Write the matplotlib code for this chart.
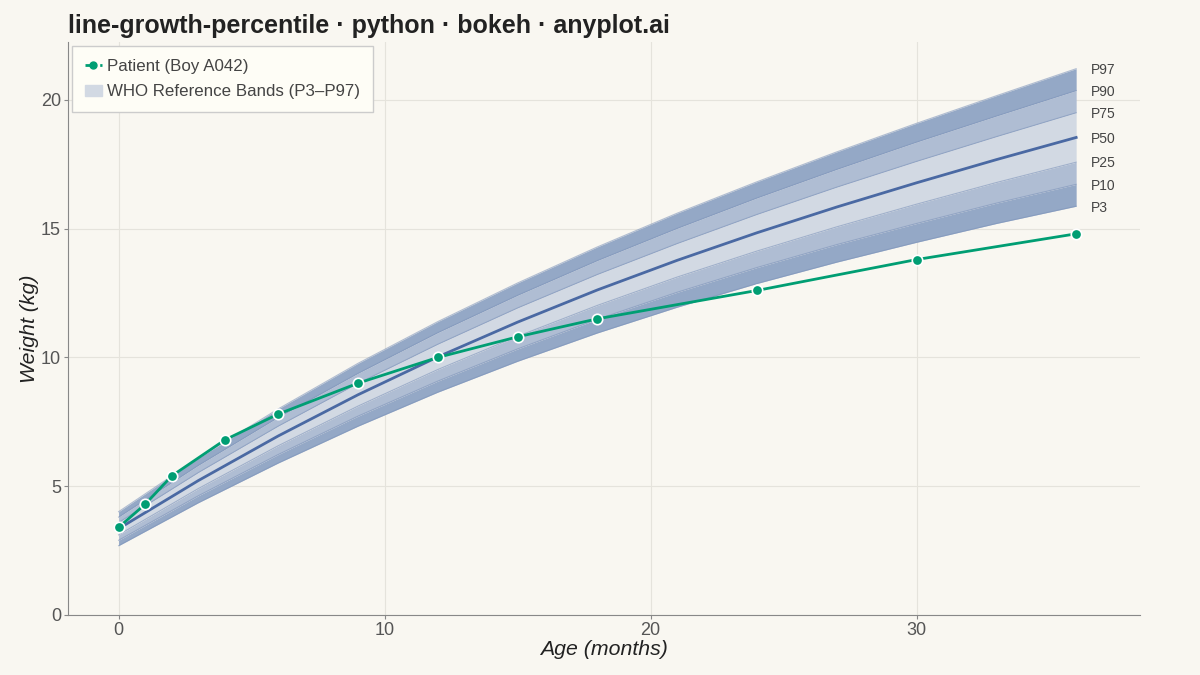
import matplotlib
matplotlib.use("Agg")
import matplotlib.pyplot as plt
from matplotlib.lines import Line2D
from matplotlib.patches import Patch

plt.rcParams['font.family'] = ['Liberation Sans', 'DejaVu Sans']

# reference percentile curves, weight in kg
ages = [0, 3, 6, 9, 12, 15, 18, 21, 24, 27, 30, 33, 36]
p3 = [2.69, 4.36, 5.90, 7.33, 8.65, 9.85, 10.95, 11.95, 12.87, 13.70, 14.47, 15.20, 15.87]
p10 = [2.90, 4.63, 6.23, 7.72, 9.08, 10.33, 11.48, 12.53, 13.49, 14.38, 15.20, 15.99, 16.72]
p25 = [3.11, 4.91, 6.57, 8.11, 9.53, 10.82, 12.02, 13.12, 14.13, 15.07, 15.95, 16.79, 17.58]
p50 = [3.35, 5.22, 6.95, 8.55, 10.02, 11.37, 12.62, 13.77, 14.84, 15.84, 16.78, 17.68, 18.54]
p75 = [3.59, 5.53, 7.33, 8.99, 10.51, 11.92, 13.22, 14.42, 15.55, 16.61, 17.61, 18.57, 19.50]
p90 = [3.80, 5.81, 7.67, 9.38, 10.96, 12.41, 13.76, 15.01, 16.19, 17.30, 18.36, 19.37, 20.36]
p97 = [4.01, 6.09, 8.00, 9.77, 11.39, 12.89, 14.29, 15.60, 16.82, 17.98, 19.09, 20.16, 21.21]

# patient measurements
patient_age = [0, 1, 2, 4, 6, 9, 12, 15, 18, 24, 30, 36]
patient_wt = [3.4, 4.3, 5.4, 6.8, 7.8, 9.0, 10.0, 10.8, 11.5, 12.6, 13.8, 14.8]

bg = '#F9F7F1'
outer_c = '#94A8C6'
mid_c = '#AFBDD3'
inner_c = '#D2D9E3'
edge_c = '#7F95BB'
median_c = '#4A69A3'
green = '#009E73'

fig = plt.figure(figsize=(12, 6.75), dpi=100, facecolor=bg)
ax = fig.add_axes([0.0567, 0.0889, 0.8933, 0.849])
ax.set_facecolor(bg)

ax.fill_between(ages, p3, p10, color=outer_c, lw=0, zorder=1)
ax.fill_between(ages, p90, p97, color=outer_c, lw=0, zorder=1)
ax.fill_between(ages, p10, p25, color=mid_c, lw=0, zorder=1)
ax.fill_between(ages, p75, p90, color=mid_c, lw=0, zorder=1)
ax.fill_between(ages, p25, p75, color=inner_c, lw=0, zorder=1)
for s in [p3, p10, p25, p75, p90, p97]:
    ax.plot(ages, s, color=edge_c, lw=0.8, alpha=0.6, zorder=2)
ax.plot(ages, p50, color=median_c, lw=2, zorder=3)

labels = ['P97', 'P90', 'P75', 'P50', 'P25', 'P10', 'P3']
ends = [p97[-1], p90[-1], p75[-1], p50[-1], p25[-1], p10[-1], p3[-1]]
for lab, v in zip(labels, ends):
    ax.text(ages[-1] + 0.55, v - 0.05, lab, fontsize=10, color='#444444',
            va='center', ha='left')

ax.plot(patient_age, patient_wt, color=green, lw=2, marker='o', ms=7.5,
        mfc=green, mec='white', mew=1.2, zorder=5)

ax.set_xlim(-1.9, 38.4)
ax.set_ylim(0, 22.25)
ax.set_xticks([0, 10, 20, 30])
ax.set_yticks([0, 5, 10, 15, 20])
ax.grid(True, color='#E5E3DC', lw=0.8)
ax.set_axisbelow(True)
for sp in ['top', 'right']:
    ax.spines[sp].set_visible(False)
for sp in ['left', 'bottom']:
    ax.spines[sp].set_color('#888888')
ax.tick_params(colors='#555555', labelsize=13, length=3, pad=2, color='#888888')

ax.set_xlabel('Age (months)', fontsize=15.3, style='italic', color='#222222', labelpad=1)
ax.set_ylabel('Weight (kg)', fontsize=15.3, style='italic', color='#222222', labelpad=1.5)

fig.text(0.0567, 0.962, 'line-growth-percentile · python · bokeh · anyplot.ai',
         fontsize=18, fontweight='bold', color='#222222', va='center', ha='left')

handles = [
    Line2D([0], [0], color=green, lw=2, ls='--', marker='o', ms=5, mfc=green, mec=green),
    Patch(facecolor=inner_c, edgecolor=inner_c),
]
leg = ax.legend(handles, ['Patient (Boy A042)', 'WHO Reference Bands (P3–P97)'],
                loc='upper left', bbox_to_anchor=(0.0, 1.0), borderaxespad=0.25,
                fontsize=12.2, frameon=True, fancybox=False, handlelength=1.0,
                handletextpad=0.3, borderpad=0.75, labelspacing=0.62,
                labelcolor='#444444')
leg.get_frame().set_facecolor('#FEFDF6')
leg.get_frame().set_edgecolor('#CCCCCC')
leg.get_frame().set_alpha(1)

fig.savefig('out.png', dpi=100, facecolor=bg)
